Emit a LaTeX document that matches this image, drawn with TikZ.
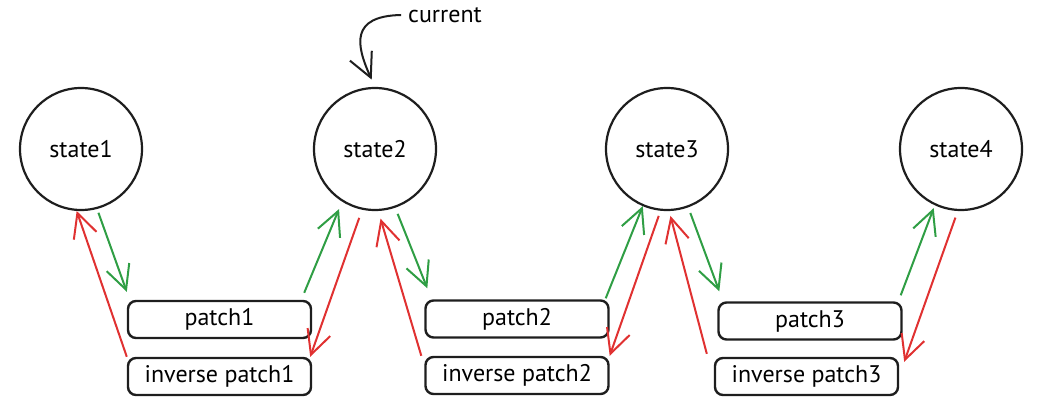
\documentclass[tikz,border=0pt]{standalone}
\usepackage{fontspec}
\setmainfont{PT Sans}
\usepackage{xcolor}
\usepackage{tikz}
\usetikzlibrary{shapes.geometric, arrows.meta, positioning, calc}
\definecolor{inkblack}{HTML}{1E1E1E}
\definecolor{fwdgreen}{HTML}{2F9E44}
\definecolor{invred}{HTML}{E03131}
\tikzset{
    % State (circle)
    statenode/.style={circle, draw=inkblack, line width=1.1pt,
        minimum size=61pt, inner sep=0pt, font=\large},
    % Patch (rounded box)
    patchbox/.style={rectangle, rounded corners=4pt, draw=inkblack, line width=1.2pt,
        minimum width=91.5pt, minimum height=18.5pt, inner sep=0pt, font=\large},
    % Forward step (apply patch)
    fwdarrow/.style={-{Straight Barb[length=12pt, width=12pt]}, line width=1pt, fwdgreen},
    % Backward step (inverse patch)
    invarrow/.style={-{Straight Barb[length=12pt, width=12pt]}, line width=1pt, invred},
    % Pointer note
    notearrow/.style={-{Straight Barb[length=12pt, width=12pt]}, line width=1pt, inkblack},
}
\begin{document}
\begin{tikzpicture}[x=0.5pt, y=-0.5pt]
    \useasboundingbox (0,0) rectangle (1037,411);
    % states
    \node[statenode] (state1) at (81,149) {state1};
    \node[statenode] (state2) at (375,149) {state2};
    \node[statenode] (state3) at (667,149) {state3};
    \node[statenode] (state4) at (961,149) {state4};
    % patches
    \node[patchbox] (patch1) at (219.5,319.5) {patch1};
    \node[patchbox] (inv1) at (219.5,376.5) {inverse patch1};
    \node[patchbox] (patch2) at (517,319) {patch2};
    \node[patchbox] (inv2) at (517,375.5) {inverse patch2};
    \node[patchbox] (patch3) at (810,321) {patch3};
    \node[patchbox] (inv3) at (806.5,376.5) {inverse patch3};
    % current pointer
    \node[font=\large] (cur) at (445,15) {current};
    \draw[notearrow, shorten >=4pt] (cur.west) .. controls (350,16) and (356,45) .. (state2.north);
    % forward
    \draw[fwdarrow, shorten <=2pt] (state1.-75) -- ([yshift=4pt]patch1.north west);
    \draw[fwdarrow, shorten >=4pt] ([xshift=-4pt, yshift=3.5pt]patch1.north east) -- (state2.-122.5);
    \draw[fwdarrow, shorten <=3.3pt] (state2.-71) -- ([xshift=1.5pt, yshift=5.5pt]patch2.north west);
    \draw[fwdarrow] ([xshift=-2pt, yshift=0.5pt]patch2.north east) -- (state3.-113.6);
    \draw[fwdarrow, shorten <=3pt] (state3.-70) -- ([xshift=1pt, yshift=5pt]patch3.north west);
    \draw[fwdarrow, shorten >=1.5pt] ([xshift=-1pt, yshift=3pt]patch3.north east) -- (state4.-115);
    % inverse
    \draw[invarrow] (inv1.north west) -- (state1.-94);
    \draw[invarrow, shorten <=4.3pt] (state2.-102.4) -- ([xshift=-1pt]inv1.north east);
    \draw[invarrow, shorten >=4pt] ([xshift=-1.5pt]inv2.north west) -- (state2.-87.5);
    \draw[invarrow, shorten <=2.7pt] (state3.-96.9) -- (inv2.north east);
    \draw[invarrow, shorten >=2.5pt] ([xshift=-3.5pt, yshift=1.5pt]inv3.north west) -- (state3.-88.3);
    \draw[invarrow, shorten <=3.5pt] (state4.-93.4) -- ([xshift=2.5pt, yshift=-2.5pt]inv3.north east);
\end{tikzpicture}
\end{document}
